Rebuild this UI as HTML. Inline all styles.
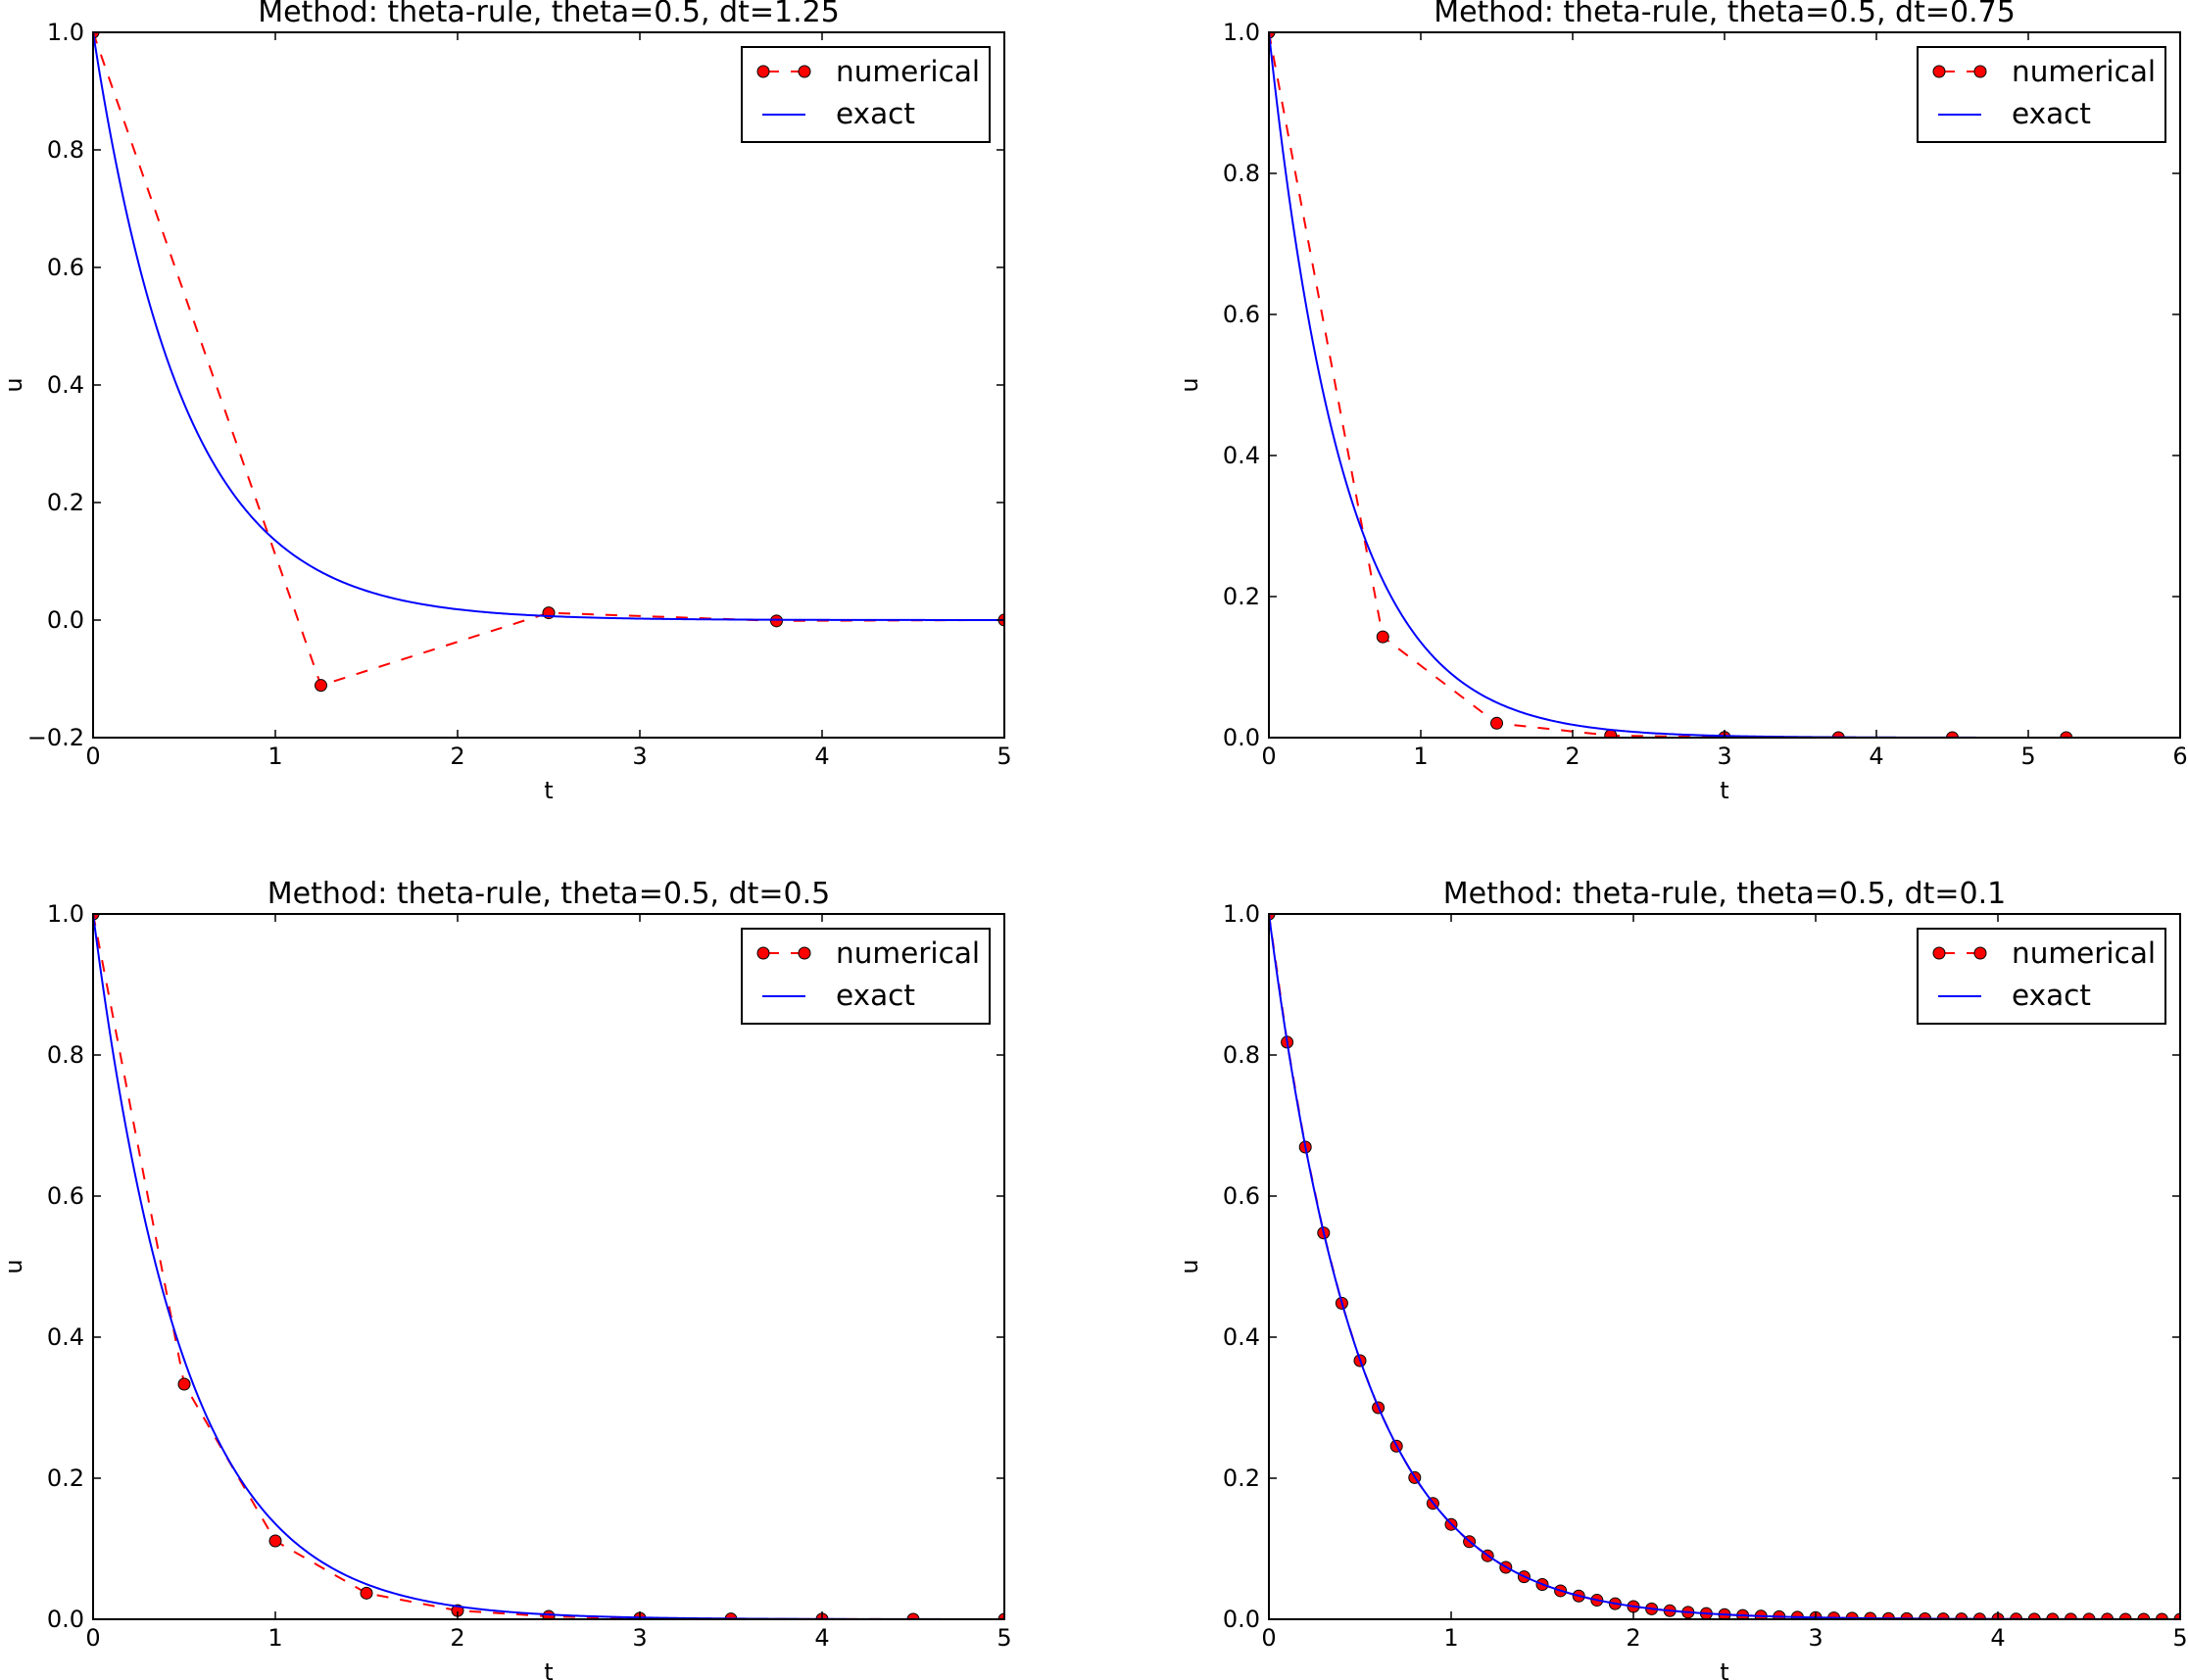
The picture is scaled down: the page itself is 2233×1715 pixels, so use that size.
<!DOCTYPE html>
<html><head><meta charset="utf-8"><style>
html,body{margin:0;padding:0;background:#fff;}
svg{display:block;}
text{font-family:"DejaVu Sans","Liberation Sans",sans-serif;fill:#000;}
</style></head><body>
<svg id="s" width="2233" height="1715" xmlns="http://www.w3.org/2000/svg"></svg>
<script>
const S=document.getElementById('s');
let h='';
const panels=[
 {x:95,y:33,dt:1.25,T:5,xmax:5,ymin:-0.2,xt:[0,1,2,3,4,5],yt:[-0.2,0,0.2,0.4,0.6,0.8,1.0],title:'Method: theta-rule, theta=0.5, dt=1.25'},
 {x:1295,y:33,dt:0.75,T:5.25,xmax:6,ymin:0,xt:[0,1,2,3,4,5,6],yt:[0,0.2,0.4,0.6,0.8,1.0],title:'Method: theta-rule, theta=0.5, dt=0.75'},
 {x:95,y:933,dt:0.5,T:5,xmax:5,ymin:0,xt:[0,1,2,3,4,5],yt:[0,0.2,0.4,0.6,0.8,1.0],title:'Method: theta-rule, theta=0.5, dt=0.5'},
 {x:1295,y:933,dt:0.1,T:5,xmax:5,ymin:0,xt:[0,1,2,3,4,5],yt:[0,0.2,0.4,0.6,0.8,1.0],title:'Method: theta-rule, theta=0.5, dt=0.1'}
];
const W=930,H=720;
panels.forEach((p,i)=>{
 const X=t=>p.x+t/p.xmax*W, Y=u=>p.y+H-(u-p.ymin)/(1-p.ymin)*H;
 h+=`<clipPath id="c${i}"><rect x="${p.x}" y="${p.y}" width="${W}" height="${H}"/></clipPath>`;
 let pts=[];const N=400;
 for(let k=0;k<=N;k++){const t=p.T*k/N;pts.push(X(t).toFixed(2)+','+Y(Math.exp(-2*t)).toFixed(2));}
 const n=Math.round(p.T/p.dt);const g=(1-p.dt)/(1+p.dt);let np=[],u=1;
 for(let k=0;k<=n;k++){np.push([X(k*p.dt),Y(u)]);u*=g;}
 h+=`<g clip-path="url(#c${i})">`;
 h+=`<polyline points="${np.map(q=>q[0].toFixed(2)+','+q[1].toFixed(2)).join(' ')}" fill="none" stroke="#f00" stroke-width="2" stroke-dasharray="12,12"/>`;
 np.forEach(q=>{h+=`<circle cx="${q[0].toFixed(2)}" cy="${q[1].toFixed(2)}" r="6" fill="#f00" stroke="#000" stroke-width="1"/>`;});
 h+=`<polyline points="${pts.join(' ')}" fill="none" stroke="#00f" stroke-width="2"/>`;
 h+=`</g>`;
 h+=`<rect x="${p.x}" y="${p.y}" width="${W}" height="${H}" fill="none" stroke="#000" stroke-width="2"/>`;
 p.xt.forEach(t=>{const x=X(t);
  h+=`<line x1="${x}" y1="${p.y+H}" x2="${x}" y2="${p.y+H-8}" stroke="#000" stroke-width="1.5"/><line x1="${x}" y1="${p.y}" x2="${x}" y2="${p.y+8}" stroke="#000" stroke-width="1.5"/>`;
  h+=`<text x="${x}" y="${p.y+H+27}" font-size="24" text-anchor="middle">${t}</text>`;});
 p.yt.forEach(v=>{const y=Y(v);
  h+=`<line x1="${p.x}" y1="${y}" x2="${p.x+8}" y2="${y}" stroke="#000" stroke-width="1.5"/><line x1="${p.x+W}" y1="${y}" x2="${p.x+W-8}" y2="${y}" stroke="#000" stroke-width="1.5"/>`;
  const lab=(v<0?'\u2212':'')+Math.abs(v).toFixed(1);
  h+=`<text x="${p.x-9}" y="${y+8}" font-size="24" text-anchor="end">${lab}</text>`;});
 h+=`<text x="${p.x+W/2}" y="${p.y-11}" font-size="30" text-anchor="middle">${p.title}</text>`;
 h+=`<text x="${p.x+W/2}" y="${p.y+H+62}" font-size="24" text-anchor="middle">t</text>`;
 h+=`<text transform="translate(${p.x-73},${p.y+H/2}) rotate(-90)" font-size="24" text-anchor="middle">u</text>`;
 const lx=p.x+W-268, ly=p.y+15;
 h+=`<rect x="${lx}" y="${ly}" width="253" height="97" fill="#fff" stroke="#000" stroke-width="2"/>`;
 h+=`<line x1="${lx+22}" y1="${ly+25}" x2="${lx+64}" y2="${ly+25}" stroke="#f00" stroke-width="2" stroke-dasharray="12,12" stroke-dashoffset="-4"/>`;
 h+=`<circle cx="${lx+22}" cy="${ly+25}" r="6" fill="#f00" stroke="#000"/><circle cx="${lx+64}" cy="${ly+25}" r="6" fill="#f00" stroke="#000"/>`;
 h+=`<line x1="${lx+21}" y1="${ly+69}" x2="${lx+65}" y2="${ly+69}" stroke="#00f" stroke-width="2"/>`;
 h+=`<text x="${lx+96}" y="${ly+35}" font-size="29.5">numerical</text>`;
 h+=`<text x="${lx+96}" y="${ly+78}" font-size="29.5">exact</text>`;
});
S.innerHTML=h;
</script>
</body></html>
